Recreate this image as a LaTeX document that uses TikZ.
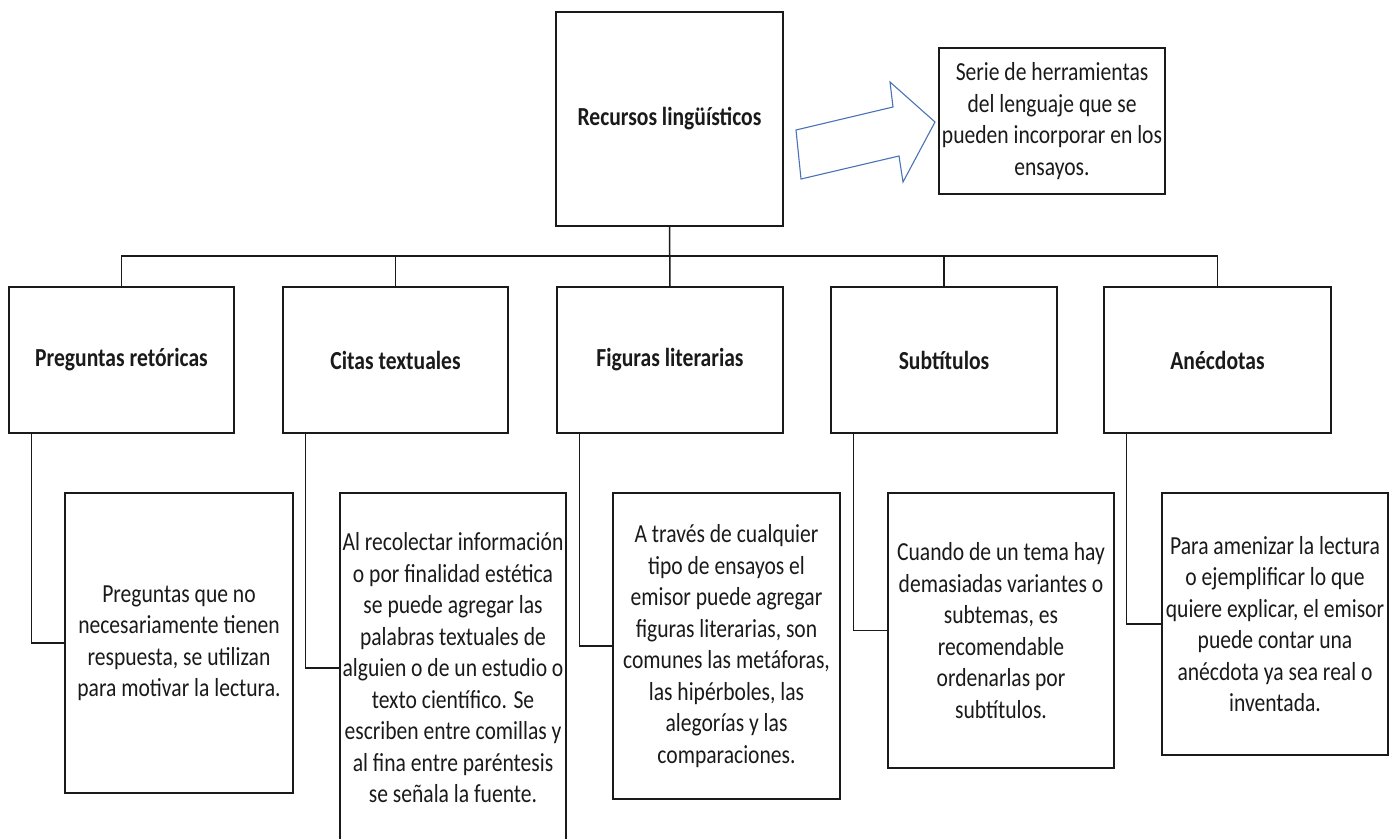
\documentclass[tikz,border=0pt]{standalone}
\usepackage{fontspec}
\setmainfont{Carlito}[FakeStretch=0.83]
\definecolor{arrowblue}{HTML}{4A72B8}
\definecolor{ink}{HTML}{1A1A1A}
\begin{document}
\begin{tikzpicture}[x=1pt,y=-1pt,
  box/.style={draw=ink, line width=1.5pt, fill=white, inner sep=0pt, outer sep=0pt,
    align=center, text=ink, font=\fontsize{26}{31.5}\selectfont},
  titlebox/.style={box, font=\fontsize{26}{31.5}\selectfont\bfseries},
  link/.style={draw=ink, line width=1.5pt}]
\useasboundingbox (0,0) rectangle (1400,838);
% main and description
\node[titlebox, minimum width=227pt, minimum height=214pt] (main) at (669.5,119) {Recursos lingüísticos};
\node[box, minimum width=226pt, minimum height=146pt] (desc) at (1052,121)
  {Serie de herramientas\\del lenguaje que se\\pueden incorporar en los\\ensayos.};
% block arrow
\draw[arrowblue, line width=1.1pt, fill=white, line join=miter]
  (796,130) -- (893,107) -- (890,82) -- (935,122) -- (903,182) -- (899,156) -- (801,179) -- cycle;
% second level
\node[titlebox, minimum width=225pt, minimum height=146pt] (t1) at (121.5,360) {Preguntas retóricas};
\node[titlebox, minimum width=225pt, minimum height=146pt] (t2) at (395.5,360) {Citas textuales};
\node[titlebox, minimum width=226pt, minimum height=146pt] (t3) at (670,360) {Figuras literarias};
\node[titlebox, minimum width=226pt, minimum height=146pt] (t4) at (944,360) {Subtítulos};
\node[titlebox, minimum width=227pt, minimum height=146pt] (t5) at (1217.5,360) {Anécdotas};
% third level
\node[box, minimum width=228pt, minimum height=300pt] (s1) at (179,643)
  {Preguntas que no\\necesariamente tienen\\respuesta, se utilizan\\para motivar la lectura.};
\node[box, minimum width=226pt, minimum height=350pt] (s2) at (453,668)
  {Al recolectar información\\o por finalidad estética\\se puede agregar las\\palabras textuales de\\alguien o de un estudio o\\texto científico. Se\\escriben entre comillas y\\al fina entre paréntesis\\se señala la fuente.};
\node[box, minimum width=227pt, minimum height=306pt] (s3) at (726.5,646)
  {A través de cualquier\\tipo de ensayos el\\emisor puede agregar\\figuras literarias, son\\comunes las metáforas,\\las hipérboles, las\\alegorías y las\\comparaciones.};
\node[box, minimum width=226pt, minimum height=275pt] (s4) at (1001,630.5)
  {Cuando de un tema hay\\demasiadas variantes o\\subtemas, es\\recomendable\\ordenarlas por\\subtítulos.};
\node[box, minimum width=226pt, minimum height=262pt] (s5) at (1275,624)
  {Para amenizar la lectura\\o ejemplificar lo que\\quiere explicar, el emisor\\puede contar una\\anécdota ya sea real o\\inventada.};
% tree connectors
\coordinate (bus) at (0,256);
\draw[link] (main.south) -- (t3.north);
\draw[link] (t1.north) -- (t1.north |- bus) -- (t5.north |- bus) -- (t5.north);
\draw[link] (t2.north) -- (t2.north |- bus);
\draw[link] (t4.north) -- (t4.north |- bus);
% side connectors
\foreach \i in {1,...,5}{
  \draw[link] ([xshift=22.5pt]t\i.south west) |- (s\i.west);
}
\end{tikzpicture}
\end{document}
